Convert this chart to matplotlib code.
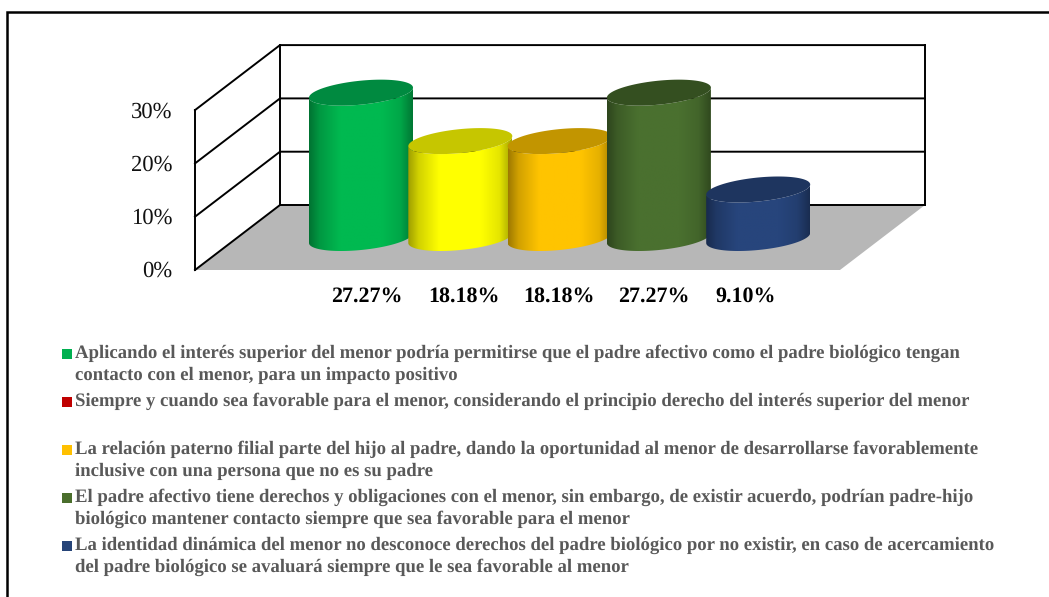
import numpy as np
import matplotlib
matplotlib.use('Agg')
import matplotlib.pyplot as plt
from matplotlib.patches import PathPatch, Polygon, Rectangle
from matplotlib.path import Path

values = [27.27, 18.18, 18.18, 27.27, 9.10]
value_labels = ['27.27%', '18.18%', '18.18%', '27.27%', '9.10%']
bar_colors = ['#00B950', '#FFFF00', '#FFC400', '#4A702F', '#27457C']
top_colors = ['#008A40', '#C6C600', '#C29500', '#344F20', '#1E355F']
ticks = [0, 10, 20, 30]
tick_labels = ['0%', '10%', '20%', '30%']
legend_colors = ['#00B050', '#C00000', '#FFC000', '#4A6E2C', '#264478']
legend_text = [
    ['Aplicando el interés superior del menor podría permitirse que el padre afectivo como el padre biológico tengan',
     'contacto con el menor, para un impacto positivo'],
    ['Siempre y cuando sea favorable para el menor, considerando el principio derecho del interés superior del menor'],
    ['La relación paterno filial parte del hijo al padre, dando la oportunidad al menor de desarrollarse favorablemente',
     'inclusive con una persona que no es su padre'],
    ['El padre afectivo tiene derechos y obligaciones con el menor, sin embargo, de existir acuerdo, podrían padre-hijo',
     'biológico mantener contacto siempre que sea favorable para el menor'],
    ['La identidad dinámica del menor no desconoce derechos del padre biológico por no existir, en caso de acercamiento',
     'del padre biológico se avaluará siempre que le sea favorable al menor'],
]

# layout, in pixels
W, H = 1049, 597
PX = 5.33  # pixels per percent point
FRONT = (195, 270)
BACK = (280, 205)
BACK_RIGHT = 925
FLOOR_RIGHT = 840
BAR_X0, BAR_STEP = 361, 99.3
BAR_BASE = 238
RX, RY, SHEAR = 52, 12, 5
LABEL_X = [367, 464, 559, 654, 746]
LEGEND_Y = [354, 402, 450, 498, 546]
LINE_H = 22


def ellipse(cx, cy, t):
    return cx + RX * np.cos(t), cy + RY * np.sin(t) - SHEAR * np.cos(t)


def mix(color, shade):
    rgb = np.array(matplotlib.colors.to_rgb(color))
    return rgb[None, None, :] * shade[None, :, None]


def draw_bar(ax, i, value):
    cx = BAR_X0 + i * BAR_STEP
    top = BAR_BASE - value * PX
    t1 = np.linspace(0, np.pi, 60)
    bx, by = ellipse(cx, BAR_BASE, t1)
    tx, ty = ellipse(cx, top, t1[::-1])
    verts = list(zip(bx, by)) + list(zip(tx, ty))
    body = PathPatch(Path(verts + [verts[0]]), fc='none', ec='none')
    ax.add_patch(body)
    # dark at both edges, flat light band in the middle
    u = np.linspace(0, 1, 200)
    shade = np.interp(u, [0, 0.1, 0.3, 0.7, 0.88, 1], [0.62, 0.82, 1, 1, 0.9, 0.65])
    img = ax.imshow(mix(bar_colors[i], shade), extent=(cx - RX, cx + RX, BAR_BASE + 20, top - 20),
                    aspect='auto', zorder=3 + i, interpolation='bilinear')
    img.set_clip_path(body)
    t2 = np.linspace(0, 2 * np.pi, 120)
    ex, ey = ellipse(cx, top, t2)
    ax.add_patch(Polygon(np.column_stack([ex, ey]), fc=top_colors[i], ec='none', zorder=3 + i))


plt.rcParams['font.family'] = 'Liberation Serif'
plt.rcParams['text.hinting'] = 'no_hinting'

fig = plt.figure(figsize=(W / 100, H / 100), dpi=100)
ax = fig.add_axes([0, 0, 1, 1])
ax.set_axis_off()

# frame, only left and top are inside the crop
ax.plot([7, 7, W + 5], [H + 5, 12, 12], color='black', lw=1.8, zorder=1, solid_joinstyle='miter')

# floor and walls
ax.add_patch(Polygon([FRONT, BACK, (BACK_RIGHT, BACK[1]), (FLOOR_RIGHT, FRONT[1])],
                     fc='#B7B7B7', ec='none', zorder=1))
for tick in ticks:
    dy = tick * PX
    ax.plot([FRONT[0], BACK[0], BACK_RIGHT], [FRONT[1] - dy, BACK[1] - dy, BACK[1] - dy],
            color='black', lw=1.4, zorder=2, solid_joinstyle='miter')
for x, y in [FRONT, BACK, (BACK_RIGHT, BACK[1])]:
    ax.plot([x, x], [y, y - ticks[-1] * PX], color='black', lw=1.4, zorder=2)

for i, value in enumerate(values):
    draw_bar(ax, i, value)

for tick, label in zip(ticks, tick_labels):
    ax.text(172, FRONT[1] - tick * PX + 1.6, label, ha='right', va='center', fontsize=16.3, color='#111111')

for x, label in zip(LABEL_X, value_labels):
    ax.text(x, 296.5, label, ha='center', va='center', fontsize=15.8, fontweight='bold', color='black')

for y, color, lines in zip(LEGEND_Y, legend_colors, legend_text):
    ax.add_patch(Rectangle((62, y - 5), 10, 10, fc=color, ec='none'))
    for j, line in enumerate(lines):
        ax.text(75, y + j * LINE_H - 0.5, line, ha='left', va='center', fontsize=13.52,
                fontweight='bold', color='#595959')

ax.set_xlim(0, W)
ax.set_ylim(H, 0)
fig.savefig('out.png', dpi=100)
